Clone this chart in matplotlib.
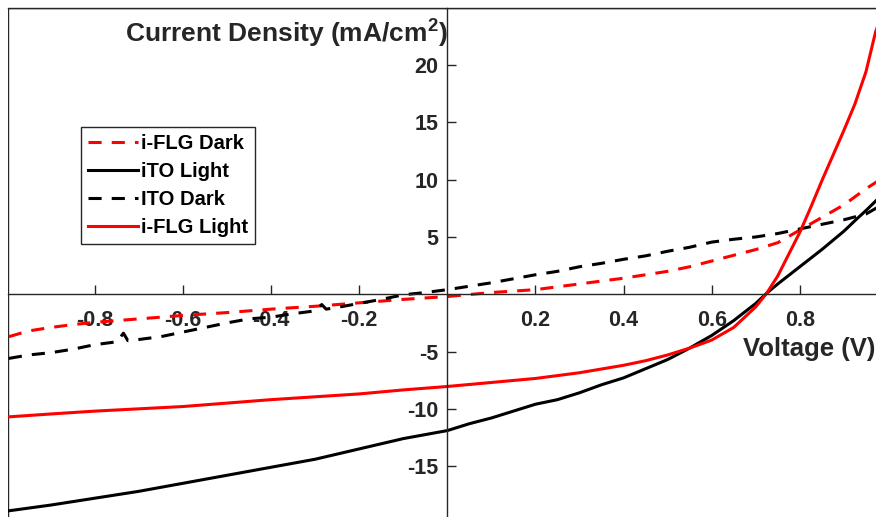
import matplotlib
matplotlib.use("Agg")
import matplotlib.pyplot as plt
from matplotlib.patches import Rectangle

# ---- data: voltage (V) vs current density (mA/cm^2) ----
ito_light_v = [-0.995, -0.9, -0.8, -0.7, -0.6, -0.5, -0.4, -0.3, -0.2, -0.1,
               0.0, 0.05, 0.1, 0.15, 0.2, 0.25, 0.3, 0.35, 0.4, 0.45, 0.5,
               0.55, 0.6, 0.65, 0.7, 0.725, 0.75, 0.8, 0.85, 0.9, 0.93,
               0.95, 0.982]
ito_light_j = [-18.9, -18.4, -17.8, -17.2, -16.5, -15.8, -15.1, -14.4, -13.5, -12.6,
               -11.9, -11.3, -10.8, -10.2, -9.6, -9.2, -8.6, -7.9, -7.3, -6.5, -5.7,
               -4.7, -3.6, -2.3, -0.8, 0.1, 0.9, 2.4, 3.9, 5.5, 6.6,
               7.3, 8.5]

flg_light_v = [-0.995, -0.9, -0.8, -0.7, -0.6, -0.5, -0.4, -0.3, -0.2, -0.1,
               0.0, 0.1, 0.2, 0.3, 0.4, 0.45, 0.5, 0.55, 0.6, 0.65, 0.7,
               0.725, 0.75, 0.775, 0.8, 0.825, 0.85, 0.875, 0.9, 0.925,
               0.95, 0.972, 0.982]
flg_light_j = [-10.7, -10.45, -10.2, -10.0, -9.8, -9.5, -9.2, -8.95, -8.7, -8.35,
               -8.05, -7.7, -7.35, -6.85, -6.2, -5.8, -5.3, -4.7, -4.0, -2.9, -1.1,
               0.1, 1.6, 3.5, 5.4, 7.6, 9.9, 12.1, 14.3, 16.6,
               19.4, 22.9, 24.0]

flg_dark_v = [-0.995, -0.95, -0.9, -0.85, -0.8, -0.7, -0.6, -0.5, -0.4, -0.3,
              -0.2, -0.1, 0.0, 0.1, 0.2, 0.3, 0.4, 0.5, 0.55, 0.6, 0.65,
              0.7, 0.75, 0.8, 0.85, 0.9, 0.95, 0.982]
flg_dark_j = [-3.7, -3.2, -2.9, -2.65, -2.45, -2.15, -1.85, -1.6, -1.3, -1.05,
              -0.75, -0.45, -0.2, 0.15, 0.4, 0.9, 1.4, 2.0, 2.4, 2.9, 3.4,
              3.9, 4.5, 5.6, 6.7, 7.8, 9.2, 10.0]

ito_dark_v = [-0.995, -0.95, -0.9, -0.85, -0.8, -0.75, -0.735, -0.725, -0.7, -0.65,
              -0.6, -0.55, -0.5, -0.45, -0.4, -0.35, -0.3, -0.285, -0.275, -0.25,
              -0.2, -0.15, -0.1, -0.05, 0.0, 0.05, 0.1, 0.15, 0.2, 0.25,
              0.3, 0.35, 0.4, 0.45, 0.5, 0.55, 0.6, 0.65, 0.7, 0.75,
              0.8, 0.85, 0.9, 0.95, 0.982]
ito_dark_j = [-5.6, -5.3, -5.1, -4.8, -4.4, -4.15, -3.4, -4.05, -3.95, -3.7,
              -3.3, -2.9, -2.5, -2.15, -2.0, -1.7, -1.45, -0.9, -1.3, -1.15,
              -0.8, -0.45, -0.05, 0.15, 0.4, 0.7, 1.0, 1.35, 1.7, 2.0,
              2.4, 2.7, 3.05, 3.35, 3.75, 4.1, 4.55, 4.8, 5.0, 5.3,
              5.7, 6.1, 6.5, 7.0, 7.7]

series_labels = ["i-FLG Dark", "iTO Light", "ITO Dark", "i-FLG Light"]
x_ticks = [-0.8, -0.6, -0.4, -0.2, 0.2, 0.4, 0.6, 0.8]
y_ticks = [-15, -10, -5, 5, 10, 15, 20]

# ---- style ----
plt.rcParams["font.family"] = ["Liberation Sans", "DejaVu Sans"]
plt.rcParams["font.weight"] = "bold"
plt.rcParams["mathtext.fontset"] = "custom"
plt.rcParams["mathtext.rm"] = "Liberation Sans:bold"
plt.rcParams["mathtext.bf"] = "Liberation Sans:bold"
plt.rcParams["mathtext.default"] = "bf"

axis_color = "#262626"
lw = 2.2
dash = (0, (4.3, 3.3))

fig = plt.figure(figsize=(8.76, 5.17), dpi=100)
ax = fig.add_axes([8 / 876, -6.4 / 517, 872 / 876, 515.6 / 517])
ax.set_xlim(-0.997, 0.982)
ax.set_ylim(-20, 25)

ax.plot(flg_dark_v, flg_dark_j, color="red", lw=lw, linestyle=dash,
        dash_capstyle="butt", label=series_labels[0])
ax.plot(ito_light_v, ito_light_j, color="black", lw=lw, label=series_labels[1])
ax.plot(ito_dark_v, ito_dark_j, color="black", lw=lw, linestyle=dash,
        dash_capstyle="butt", label=series_labels[2])
ax.plot(flg_light_v, flg_light_j, color="red", lw=lw, label=series_labels[3])

# axes through the origin
ax.set_axisbelow(True)
ax.spines["left"].set_position(("data", 0))
ax.spines["bottom"].set_position(("data", 0))
for s in ("left", "bottom", "top", "right"):
    ax.spines[s].set_color(axis_color)
    ax.spines[s].set_linewidth(1.0)
# outer box
ax.add_patch(Rectangle((0, 0), 1, 1, transform=ax.transAxes, fill=False,
                       ec=axis_color, lw=1.0, zorder=0.4))

ax.set_xticks(x_ticks)
ax.set_xticklabels([f"{t:g}" for t in x_ticks])
ax.set_yticks(y_ticks)
ax.set_yticklabels([f"{t:g}" for t in y_ticks])
ax.tick_params(axis="x", direction="in", length=6.5, width=1.0, color=axis_color,
               labelcolor=axis_color, labelsize=15.5, pad=11.5,
               top=False)
ax.tick_params(axis="y", direction="in", length=6.5, width=1.0, color=axis_color,
               labelcolor=axis_color, labelsize=15.5, pad=6.5, right=False)
for lab in ax.get_xticklabels() + ax.get_yticklabels():
    lab.set_fontweight("bold")

ax.set_ylabel(r"Current Density (mA/cm$^{2}$)", rotation=0, ha="right",
              va="center", fontsize=19, fontweight="bold", color=axis_color)
ax.yaxis.set_label_coords(0.5045, 0.949)
ax.set_xlabel("Voltage (V)", ha="right", va="center", fontsize=18.5,
              fontweight="bold", color=axis_color)
ax.xaxis.set_label_coords(0.995, 0.338)

leg = ax.legend(loc="upper left", bbox_to_anchor=(0.0837, 0.769),
                borderaxespad=0, fontsize=14.5, handlelength=2.5,
                handletextpad=0.15, labelspacing=0.45, borderpad=0.35,
                fancybox=False, framealpha=1, edgecolor=axis_color)
leg.get_frame().set_linewidth(1.0)
for t in leg.get_texts():
    t.set_fontweight("bold")
    t.set_color("black")

fig.savefig("out.png", dpi=100)
